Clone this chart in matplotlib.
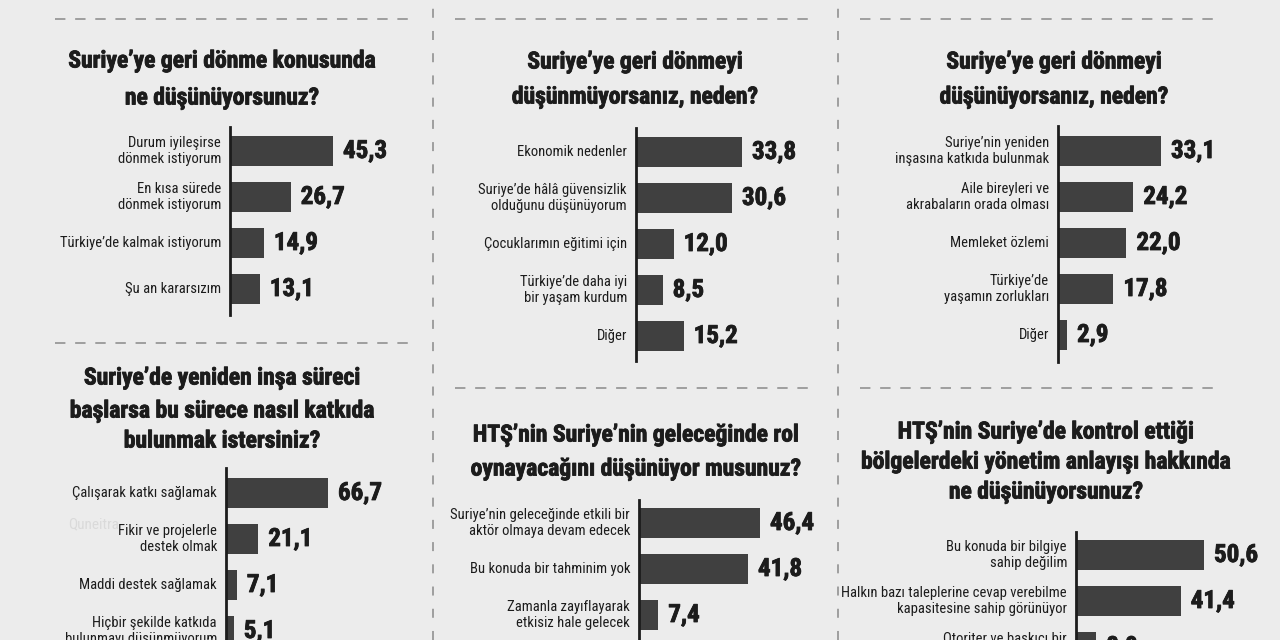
import matplotlib
matplotlib.use('Agg')
from matplotlib import pyplot as plt
from matplotlib import font_manager
from matplotlib import patheffects
from matplotlib.lines import Line2D
from matplotlib.transforms import offset_copy

W_PX, H_PX = 1280, 640
BG = '#ececec'
BAR = '#404040'
INK = '#1c1c1c'
DASH = '#8a8a8a'

# --- data ---------------------------------------------------------------
p1_title = ['Suriye’ye geri dönme konusunda', 'ne düşünüyorsunuz?']
p1_labels = ['Durum iyileşirse\ndönmek istiyorum', 'En kısa sürede\ndönmek istiyorum',
             'Türkiye’de kalmak istiyorum', 'Şu an kararsızım']
p1_values = [45.3, 26.7, 14.9, 13.1]

p2_title = ['Suriye’ye geri dönmeyi', 'düşünmüyorsanız, neden?']
p2_labels = ['Ekonomik nedenler', 'Suriye’de hâlâ güvensizlik\nolduğunu düşünüyorum',
             'Çocuklarımın eğitimi için', 'Türkiye’de daha iyi\nbir yaşam kurdum', 'Diğer']
p2_values = [33.8, 30.6, 12.0, 8.5, 15.2]

p3_title = ['Suriye’ye geri dönmeyi', 'düşünüyorsanız, neden?']
p3_labels = ['Suriye’nin yeniden\ninşasına katkıda bulunmak', 'Aile bireyleri ve\nakrabaların orada olması',
             'Memleket özlemi', 'Türkiye’de\nyaşamın zorlukları', 'Diğer']
p3_values = [33.1, 24.2, 22.0, 17.8, 2.9]

p4_title = ['Suriye’de yeniden inşa süreci', 'başlarsa bu sürece nasıl katkıda', 'bulunmak istersiniz?']
p4_labels = ['Çalışarak katkı sağlamak', 'Fikir ve projelerle\ndestek olmak',
             'Maddi destek sağlamak', 'Hiçbir şekilde katkıda\nbulunmayı düşünmüyorum']
p4_values = [66.7, 21.1, 7.1, 5.1]

p5_title = ['HTŞ’nin Suriye’nin geleceğinde rol', 'oynayacağını düşünüyor musunuz?']
p5_labels = ['Suriye’nin geleceğinde etkili bir\naktör olmaya devam edecek', 'Bu konuda bir tahminim yok',
             'Zamanla zayıflayarak\netkisiz hale gelecek']
p5_values = [46.4, 41.8, 7.4]

p6_title = ['HTŞ’nin Suriye’de kontrol ettiği', 'bölgelerdeki yönetim anlayışı hakkında', 'ne düşünüyorsunuz?']
p6_labels = ['Bu konuda bir bilgiye\nsahip değilim', 'Halkın bazı taleplerine cevap verebilme\nkapasitesine sahip görünüyor',
             'Otoriter ve baskıcı bir\n']
p6_values = [50.6, 41.4, 8.0]

# --- fonts --------------------------------------------------------------
names = {f.name for f in font_manager.fontManager.ttflist}
FONT = 'DejaVu Sans'
for cand in ['Liberation Sans Narrow', 'Roboto Condensed', 'Roboto', 'Liberation Sans']:
    if cand in names:
        FONT = cand
        break
plt.rcParams['font.family'] = [FONT, 'DejaVu Sans']
plt.rcParams['lines.scale_dashes'] = False

HEAVY = [patheffects.withStroke(linewidth=0.6, foreground=INK)]


def fx(x):
    return x / W_PX


def fy(y):
    return 1 - y / H_PX


fig = plt.figure(figsize=(12.8, 6.4), dpi=100)
fig.patch.set_facecolor(BG)

# faint map label in the background
fig.text(fx(68), fy(524), 'Quneitra', fontsize=11, color='#dadada', va='center')


# dashed separators
def hdash(x0, x1, y):
    fig.add_artist(Line2D([fx(x0), fx(x1)], [fy(y), fy(y)], color=DASH, lw=1.1,
                          dashes=(7.5, 7.0)))


def vdash(x):
    fig.add_artist(Line2D([fx(x), fx(x)], [0, 1], color=DASH, lw=1.1, dashes=(6.5, 9.5)))


for x0, x1, y in [(55, 410, 19), (455, 815, 19), (860, 1218, 19),
                  (55, 410, 343), (455, 815, 388), (860, 1218, 388)]:
    hdash(x0, x1, y)
vdash(433)
vdash(838)


def panel(title, title_x, title_ys, labels, values, x0, ytop, ybot, yc0, scale,
          tsize=17, spacing=46.0, width_px=190):
    for line, ty in zip(title, title_ys):
        fig.text(fx(title_x), fy(ty), line, ha='center', va='center', fontsize=tsize,
                 fontweight='bold', color=INK, path_effects=HEAVY)
    ax = fig.add_axes([fx(x0), fy(ybot), width_px / W_PX, (ybot - ytop) / H_PX])
    ax.set_facecolor('none')
    ypos = list(range(len(values)))
    ax.barh(ypos, values, height=30 / spacing, color=BAR, left=0)
    ax.set_xlim(0, width_px / scale)
    ax.set_ylim((ybot - yc0) / spacing, (ytop - yc0) / spacing)
    for s in ['top', 'right', 'bottom']:
        ax.spines[s].set_visible(False)
    ax.spines['left'].set_color(INK)
    ax.spines['left'].set_linewidth(2.0)
    ax.set_xticks([])
    ax.set_yticks([])
    lab_tr = offset_copy(ax.transData, fig=fig, x=-9, y=0, units='dots')
    val_tr = offset_copy(ax.transData, fig=fig, x=10, y=0, units='dots')
    for i, (lab, v) in enumerate(zip(labels, values)):
        ax.text(0, i, lab, transform=lab_tr, ha='right', va='center', fontsize=10.5,
                color=INK, linespacing=1.2, clip_on=False)
        ax.text(v, i, f'{v:.1f}'.replace('.', ','), transform=val_tr, ha='left',
                va='center', fontsize=18, fontweight='bold', color=INK, clip_on=False,
                path_effects=HEAVY)
    return ax


panel(p1_title, 222, [61, 98], p1_labels, p1_values, 230, 127, 315, 151, 103 / 45.3)
panel(p2_title, 635, [62, 97], p2_labels, p2_values, 636, 128, 361, 152, 106 / 33.8)
panel(p3_title, 1054, [62, 97], p3_labels, p3_values, 1058, 126, 362, 151, 103 / 33.1)
panel(p4_title, 222, [378, 411, 441], p4_labels, p4_values, 226, 468, 720, 493, 102 / 66.7)
panel(p5_title, 636, [435, 469], p5_labels, p5_values, 639, 500, 720, 523, 121 / 46.4)
panel(p6_title, 1046, [432, 462, 492], p6_labels, p6_values, 1076, 532, 720, 555, 128 / 50.6)

fig.savefig('out.png', dpi=100, facecolor=BG)
